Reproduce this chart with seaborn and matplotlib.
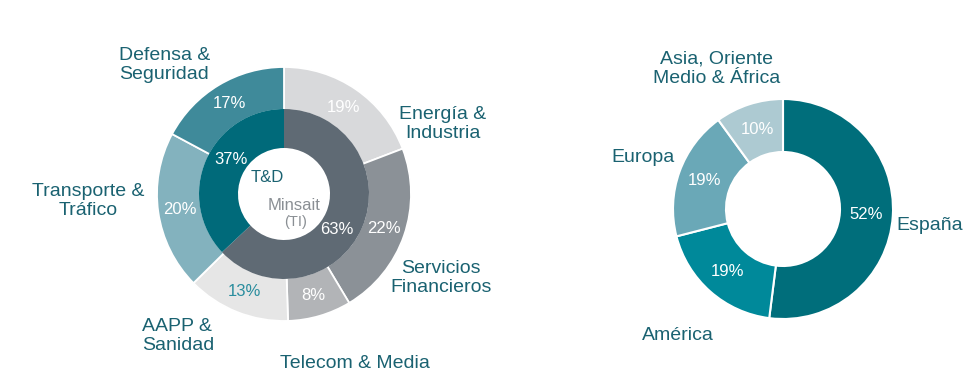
import matplotlib
matplotlib.use("Agg")
import matplotlib.pyplot as plt
import seaborn as sns

sns.set_theme(style="white")
plt.rcParams['font.family'] = ['Liberation Sans', 'DejaVu Sans']

# Left donut: outer ring (verticals), clockwise from 12 o'clock
sector_labels = ["Energía &\nIndustria", "Servicios\nFinancieros", "Telecom & Media",
                 "AAPP &\nSanidad", "Transporte &\nTráfico", "Defensa &\nSeguridad"]
sector_values = [19, 22, 8, 13, 20, 17]
sector_colors = ["#d8d9db", "#8b9197", "#b2b4b7", "#e6e6e6", "#83b2be", "#3f8a9a"]
sector_pct_colors = ["white", "white", "white", "#2a8d9e", "white", "white"]

# Left donut: inner ring (business units)
unit_labels = ["Minsait", "T&D"]
unit_values = [63, 37]
unit_colors = ["#5f6a74", "#006a7a"]

# Right donut: geography
geo_labels = ["España", "América", "Europa", "Asia, Oriente\nMedio & África"]
geo_values = [52, 19, 19, 10]
geo_colors = ["#006e7b", "#00899a", "#6aa8b7", "#adcad2"]

LABEL_COLOR = "#1a6271"
W, H = 973, 388
PCT_SIZE = 12
LAB_SIZE = 14

fig = plt.figure(figsize=(W / 100, H / 100), dpi=100)
ax = fig.add_axes([0, 0, 1, 1])

# --- left nested donut ---
c1 = (284, H - 194)
wedges, _, pcts = ax.pie(sector_values, colors=sector_colors, startangle=90, counterclock=False,
                         center=c1, radius=127, frame=True,
                         autopct=lambda p: "", pctdistance=(127 - 21.5) / 127,
                         wedgeprops=dict(width=43, edgecolor="white", linewidth=1.3))
for t, v, col in zip(pcts, sector_values, sector_pct_colors):
    t.set_text(f"{v}%")
    t.set_color(col)
    t.set_fontsize(PCT_SIZE)

iw, _, ipcts = ax.pie(unit_values, colors=unit_colors, startangle=90, counterclock=False,
                      center=c1, radius=85, frame=True,
                      autopct=lambda p: "", pctdistance=0.72,
                      wedgeprops=dict(width=39, linewidth=0))
for t, v in zip(ipcts, unit_values):
    t.set_text(f"{v}%")
    t.set_color("white")
    t.set_fontsize(PCT_SIZE)
ipcts[0].set_position((337, H - 230))
ipcts[1].set_position((231, H - 160))

ax.text(267, H - 178, "T&D", color=LABEL_COLOR, fontsize=12, ha="center", va="center")
ax.text(294, H - 206, "Minsait", color="#8a8f94", fontsize=12, ha="center", va="center")
ax.text(296, H - 222, "(TI)", color="#8a8f94", fontsize=10.5, ha="center", va="center")

sector_pos = [(443, 124, "center"), (441, 278, "center"), (355, 363, "center"),
              (142, 336, "left"), (88, 201, "center"), (119, 65, "left")]
for lab, (x, y, ha) in zip(sector_labels, sector_pos):
    ax.text(x, H - y, lab, color=LABEL_COLOR, fontsize=LAB_SIZE, ha=ha, va="center",
            linespacing=1.2, multialignment=ha)

# --- right donut ---
c2 = (783, H - 209)
gw, _, gpcts = ax.pie(geo_values, colors=geo_colors, startangle=90, counterclock=False,
                      center=c2, radius=110, frame=True,
                      autopct=lambda p: "", pctdistance=(110 - 26.5) / 110,
                      wedgeprops=dict(width=53, edgecolor="white", linewidth=1.5))
for t, v in zip(gpcts, geo_values):
    t.set_text(f"{v}%")
    t.set_color("white")
    t.set_fontsize(PCT_SIZE)

geo_pos = [(930, 225), (678, 335), (643, 157), (717, 69)]
for lab, (x, y) in zip(geo_labels, geo_pos):
    ax.text(x, H - y, lab, color=LABEL_COLOR, fontsize=LAB_SIZE, ha="center", va="center",
            linespacing=1.2)

ax.set_xlim(0, W)
ax.set_ylim(0, H)
ax.set_aspect("equal")
ax.set_xticks([])
ax.set_yticks([])
for s in ax.spines.values():
    s.set_visible(False)

fig.savefig("out.png", dpi=100)
